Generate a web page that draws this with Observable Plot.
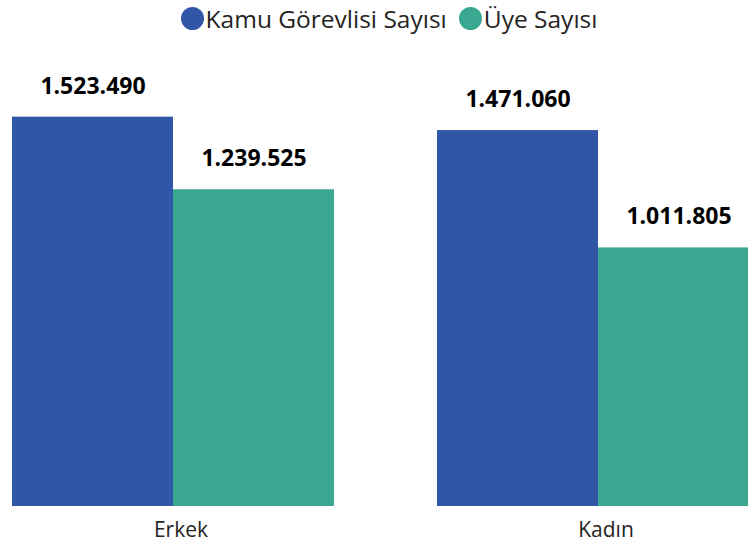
<!DOCTYPE html>
<html>
<head>
<meta charset="utf-8">
<script src="https://cdn.jsdelivr.net/npm/d3@7"></script>
<script src="https://cdn.jsdelivr.net/npm/@observablehq/plot@0.6"></script>
<style>
  html, body { margin: 0; padding: 0; background: #fff; width: 748px; height: 544px; overflow: hidden; }
  #legend { height: 36px; display: flex; justify-content: center; align-items: center; padding-left: 30px; box-sizing: border-box;
            font-family: "Open Sans", sans-serif; font-size: 24.5px; color: #252423; }
  .item { display: flex; align-items: center; margin: 0 6px; }
  .dot { width: 23px; height: 23px; border-radius: 50%; margin-right: 2px; }
  #chart svg { overflow: hidden; display: block; }
</style>
</head>
<body>
<div id="legend"></div>
<div id="chart"></div>
<script>
const groups = ["Erkek", "Kadın"];
const seriesNames = ["Kamu Görevlisi Sayısı", "Üye Sayısı"];
const kamuValues = [1523490, 1471060];
const uyeValues = [1239525, 1011805];
const colors = ["#3256A7", "#3AA891"];

const data = groups.flatMap((g, i) => [
  {group: g, series: seriesNames[0], value: kamuValues[i]},
  {group: g, series: seriesNames[1], value: uyeValues[i]}
]);

const trLocale = d3.formatLocale({decimal: ",", thousands: ".", grouping: [3], currency: ["", " ₺"]});
const fmt = trLocale.format(",d");

const legend = document.getElementById("legend");
seriesNames.forEach((s, i) => {
  const item = document.createElement("div");
  item.className = "item";
  const dot = document.createElement("span");
  dot.className = "dot";
  dot.style.background = colors[i];
  const label = document.createElement("span");
  label.textContent = s;
  item.appendChild(dot);
  item.appendChild(label);
  legend.appendChild(item);
});

const chart = Plot.plot({
  width: 748,
  height: 508,
  marginTop: 10,
  marginBottom: 38,
  marginLeft: 11,
  marginRight: -11,
  style: {fontFamily: "Open Sans, sans-serif", fontSize: "21px", color: "#252423", background: "#fff"},
  fx: {domain: groups, paddingInner: 0.24, paddingOuter: 0, label: null},
  x: {domain: seriesNames, padding: 0, axis: null},
  y: {domain: [0, 1800000], axis: null},
  color: {domain: seriesNames, range: colors},
  marks: [
    Plot.barY(data, {fx: "group", x: "series", y: "value", fill: "series"}),
    Plot.text(data, {fx: "group", x: "series", y: "value", text: d => fmt(d.value), dy: -31,
                     fontSize: 23, fontWeight: "bold", fill: "#000"}),
    Plot.axisFx({anchor: "bottom", tickSize: 0, tickPadding: 16, dx: 8, fontSize: 21, label: null})
  ]
});
document.getElementById("chart").appendChild(chart);
</script>
</body>
</html>
